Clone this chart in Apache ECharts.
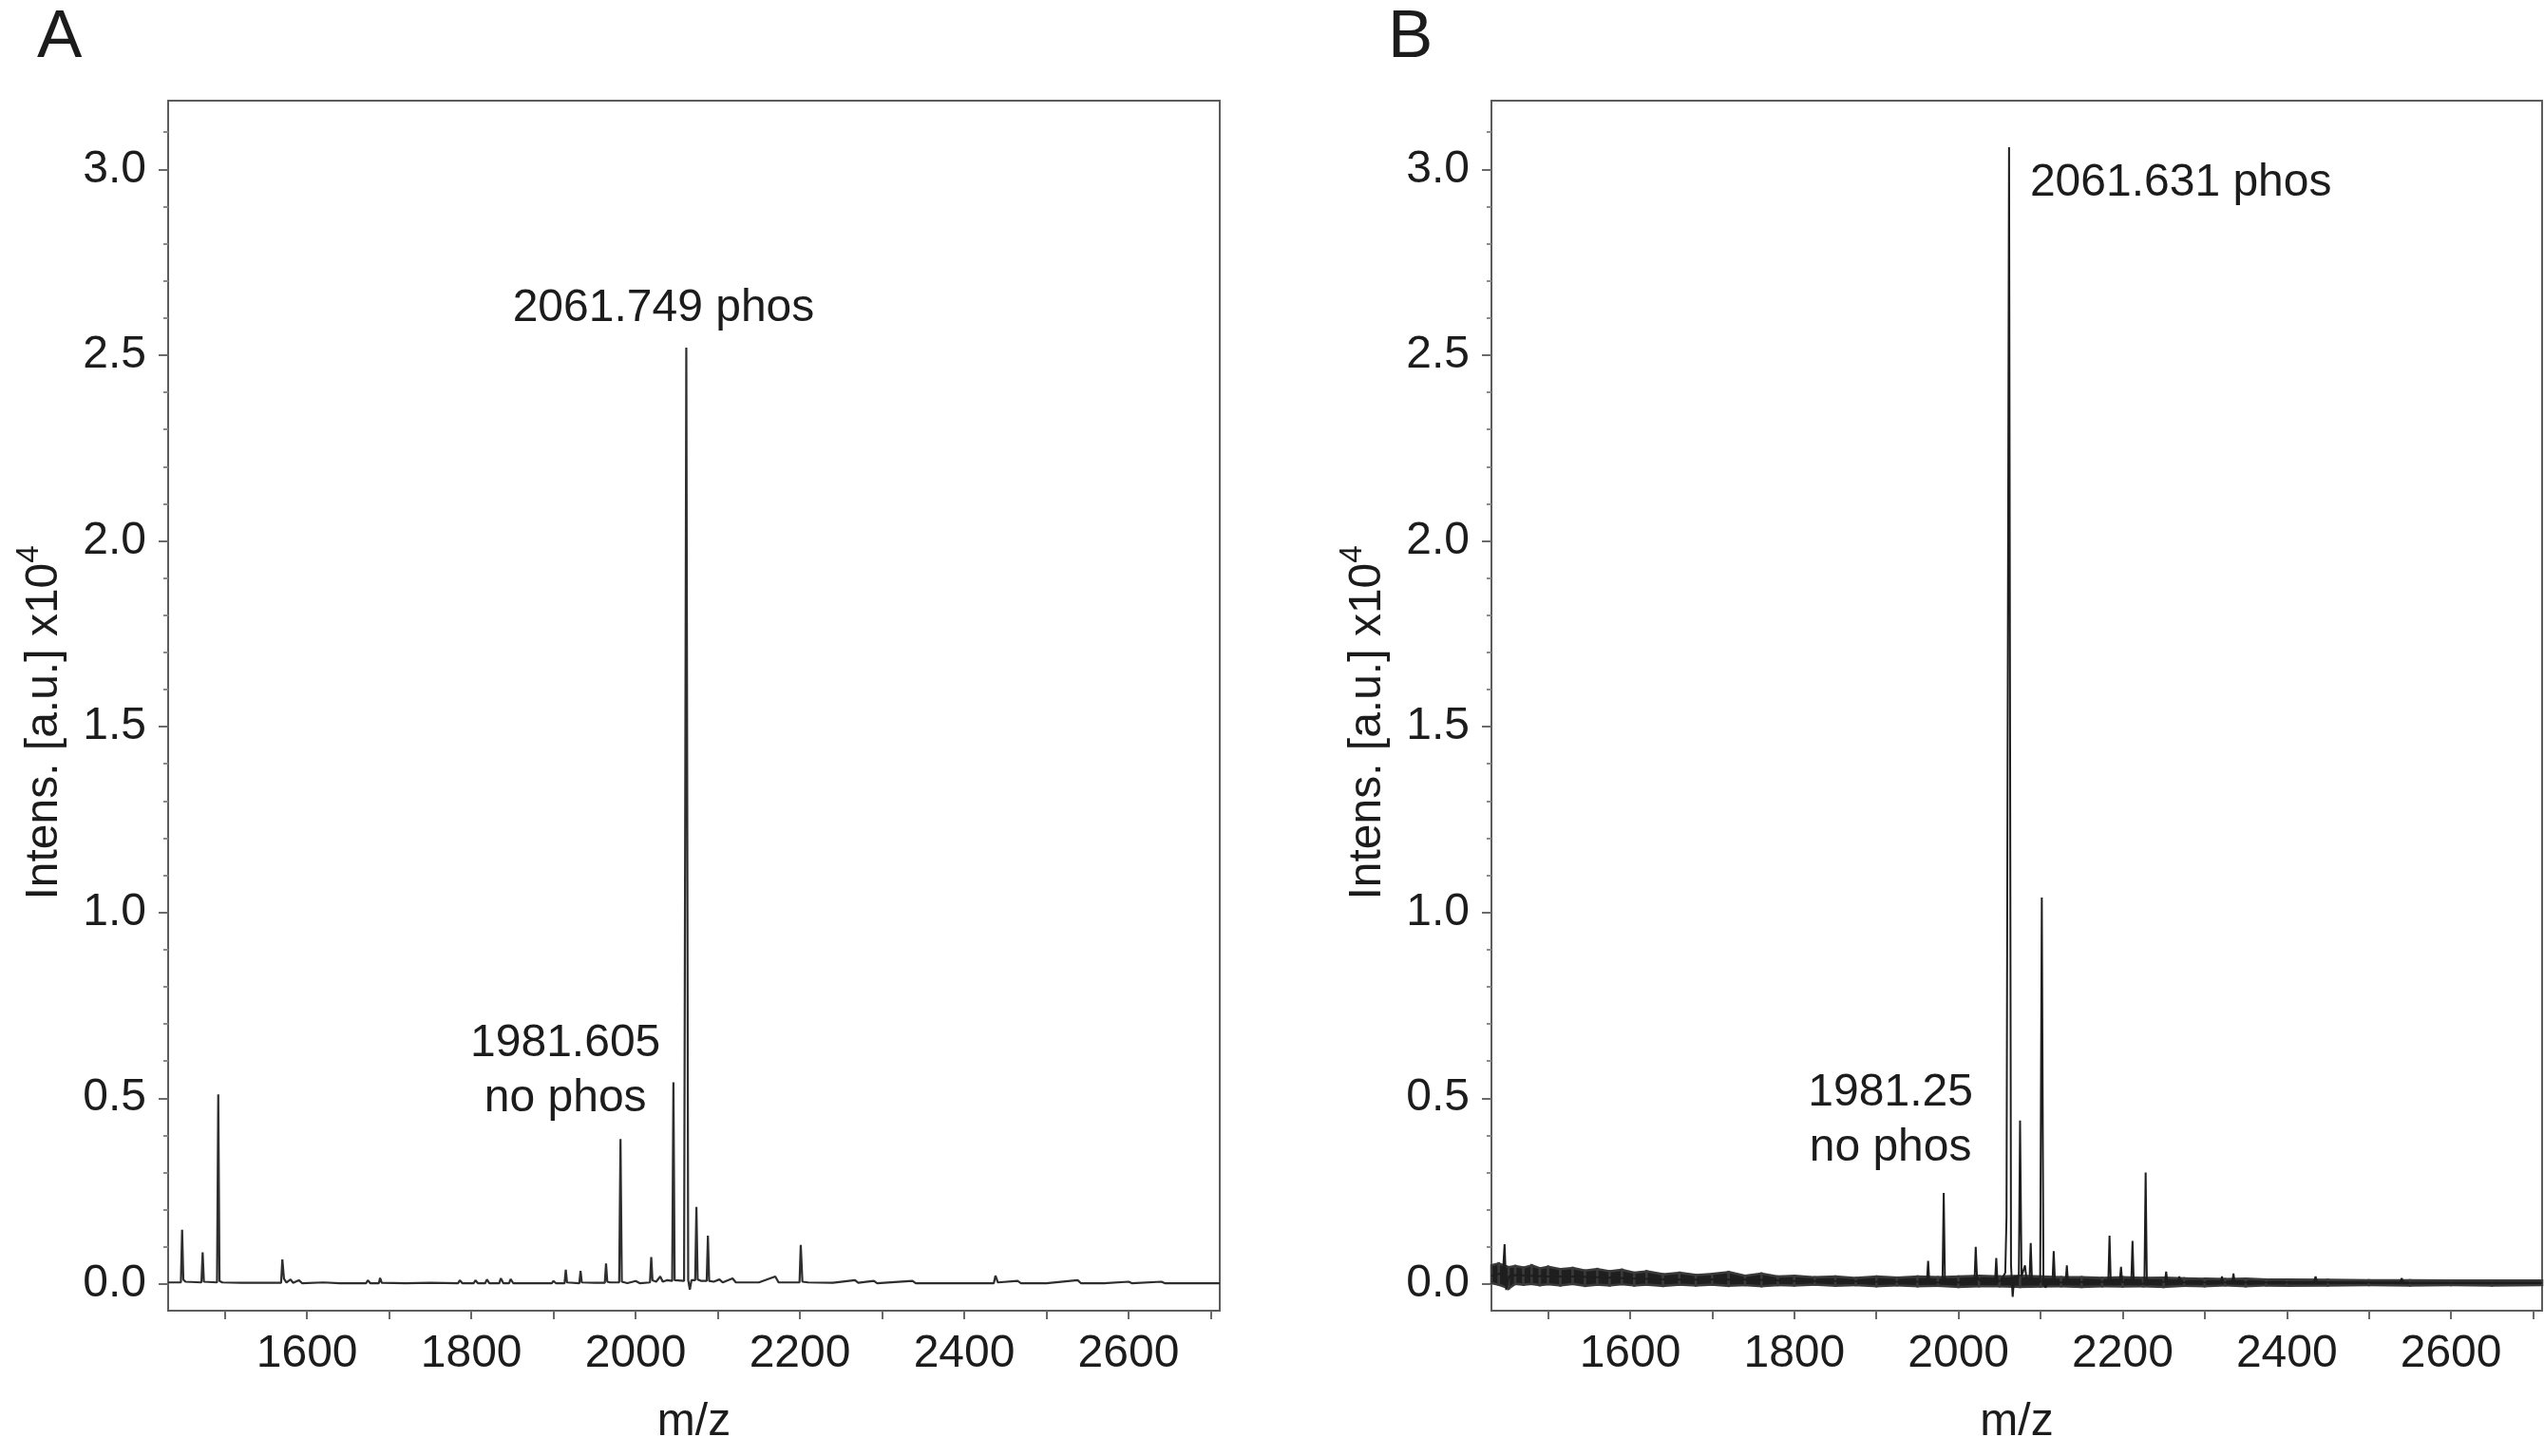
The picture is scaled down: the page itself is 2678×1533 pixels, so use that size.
<!DOCTYPE html>
<html><head><meta charset="utf-8">
<script src="https://cdn.jsdelivr.net/npm/echarts@6/dist/echarts.min.js"></script>
<style>html,body{margin:0;padding:0;background:#fff}#c{width:2678px;height:1533px}</style>
</head><body><div id="c"></div>
<script>
// ---------- data ----------
const xTicks = [1500,1600,1700,1800,1900,2000,2100,2200,2300,2400,2500,2600,2700];
const xLabels = [1600,1800,2000,2200,2400,2600];
const yMajor = [0,0.5,1.0,1.5,2.0,2.5,3.0];
const yMinor = [0.1,0.2,0.3,0.4,0.6,0.7,0.8,0.9,1.1,1.2,1.3,1.4,1.6,1.7,1.8,1.9,2.1,2.2,2.3,2.4,2.6,2.7,2.8,2.9,3.1];

// Panel A spectrum [m/z, intensity x10^4]
const specA = [
[1431,0.004],[1446.5,0.004],[1448,0.146],[1449.5,0.012],[1452,0.006],[1471.5,0.004],[1473,0.085],[1474.5,0.006],
[1490.5,0.004],[1492,0.51],[1493.5,0.008],[1497,0.004],[1520,0.003],[1545,0.003],[1568.5,0.003],[1570,0.066],
[1572,0.014],[1575,0.004],[1580,0.012],[1583,0.003],[1590,0.01],[1594,0.002],[1620,0.004],[1640,0.002],
[1672,0.002],[1674,0.01],[1677,0.002],[1687.5,0.002],[1689,0.016],[1691,0.003],[1720,0.002],[1750,0.003],
[1784,0.002],[1786,0.01],[1789,0.002],[1803,0.002],[1805,0.01],[1808,0.002],[1817,0.002],[1819,0.012],
[1822,0.002],[1834,0.002],[1836,0.015],[1839,0.002],[1846,0.002],[1848,0.013],[1851,0.002],[1880,0.002],
[1898,0.002],[1900,0.008],[1903,0.002],[1913.5,0.002],[1915,0.038],[1916.5,0.004],[1931.5,0.002],[1933,0.035],
[1934.5,0.004],[1950,0.003],[1962.5,0.003],[1964,0.055],[1965.5,0.006],[1969,0.004],[1980,0.004],[1981.6,0.39],
[1983.2,0.006],[1990,0.002],[2000,0.008],[2005,0.002],[2017.5,0.004],[2019,0.072],[2020.5,0.01],[2025,0.006],
[2030,0.02],[2033,0.006],[2038,0.01],[2044.5,0.008],[2046,0.543],[2047.5,0.01],[2059,0.008],[2061.7,2.52],
[2064,0.01],[2066,-0.015],[2068,0.01],[2072.5,0.01],[2074,0.207],[2075.5,0.012],[2080,0.008],[2086.5,0.008],
[2088,0.13],[2089.5,0.008],[2095,0.006],[2102,0.012],[2106,0.004],[2118,0.015],[2122,0.004],[2150,0.004],
[2170,0.02],[2174,0.004],[2199.5,0.004],[2201,0.105],[2203,0.006],[2210,0.004],[2240,0.003],[2267,0.01],
[2271,0.003],[2290,0.008],[2294,0.002],[2337,0.008],[2341,0.002],[2380,0.002],[2436,0.002],[2438,0.022],
[2441,0.004],[2465,0.008],[2469,0.002],[2500,0.002],[2538,0.01],[2542,0.002],[2570,0.002],[2600,0.006],
[2604,0.002],[2640,0.006],[2644,0.002],[2711,0.002]
];

// Panel B spectrum peaks [m/z, intensity x10^4]
const specB = [
[1431,0.022],[1438,0.026],[1445,0.03],[1447,0.107],[1449,-0.016],[1452,0.02],[1460,0.024],[1480,0.022],
[1500,0.02],[1530,0.02],[1560,0.018],[1600,0.015],[1650,0.012],[1700,0.012],[1750,0.012],[1800,0.008],
[1850,0.008],[1900,0.006],[1950,0.006],[1961.5,0.006],[1963,0.062],[1964.5,0.004],[1970,0.004],[1980.5,0.004],
[1982,0.245],[1983.5,0.002],[1990,0.006],[2000,0.004],[2010,0.006],[2019.5,0.006],[2021,0.10],[2022.5,0.02],
[2025,0.012],[2030,0.004],[2040,0.006],[2044.5,0.006],[2046,0.07],[2047.5,0.006],[2052,0.01],[2057,0.03],
[2058.5,0.18],[2061.6,3.06],[2064,0.05],[2066,-0.035],[2068,0.02],[2073.5,0.02],[2075,0.44],[2076.8,0.02],
[2081,0.05],[2083,0.01],[2086.5,0.01],[2088,0.11],[2089.5,0.01],[2094,0.004],[2099.5,0.004],[2101.5,1.04],
[2103.5,0.004],[2106,-0.01],[2110,0.008],[2114.5,0.006],[2116,0.088],[2117.5,0.008],[2124,0.004],[2130.5,0.004],
[2132,0.05],[2133.5,0.004],[2145,0.006],[2160,0.004],[2175,0.006],[2182.5,0.004],[2184,0.13],[2185.5,0.004],
[2190,0.012],[2196.5,0.008],[2198,0.046],[2199.5,0.004],[2205,0.006],[2210.5,0.004],[2212,0.116],[2213.5,0.004],
[2226.5,0.0],[2228,0.30],[2229.5,0.0],[2236,0.01],[2245,0.005],[2251.5,0.006],[2253,0.033],[2254.5,0.004],
[2267.5,0.004],[2269,0.02],[2270.5,0.004],[2300,0.004],[2319.5,0.004],[2321,0.02],[2322.5,0.004],[2333.5,0.004],
[2335,0.028],[2336.5,0.004],[2380,0.004],[2433,0.004],[2435,0.02],[2437,0.004],[2490,0.004],[2538,0.004],
[2540,0.015],[2542,0.003],[2600,0.003],[2650,0.003],[2711,0.003]
];

// Panel B baseline noise envelope
const noiseMzB = [1431,1440,1452,1460,1470,1480,1490,1500,1515,1530,1545,1560,1575,1590,1605,1620,1640,1660,1680,1700,1720,1740,1760,1780,1800,1825,1850,1875,1900,1925,1950,1975,2000,2025,2050,2075,2100,2125,2150,2175,2200,2225,2250,2275,2300,2325,2350,2375,2400,2450,2500,2550,2600,2650,2711];
const noiseLoB = [0.002,-0.002,-0.012,0.0,-0.002,0.0,-0.003,-0.001,-0.004,0.0,-0.005,-0.002,-0.004,-0.001,-0.004,-0.002,-0.005,-0.002,-0.004,-0.002,-0.005,-0.003,-0.006,-0.003,-0.004,-0.002,-0.005,-0.003,-0.006,-0.004,-0.006,-0.005,-0.008,-0.006,-0.006,-0.008,-0.007,-0.006,-0.008,-0.006,-0.007,-0.006,-0.008,-0.005,-0.006,-0.004,-0.006,-0.004,-0.005,-0.004,-0.003,-0.004,-0.003,-0.004,-0.003];
const noiseHiB = [0.05,0.055,0.045,0.048,0.044,0.05,0.042,0.046,0.04,0.043,0.036,0.04,0.034,0.038,0.03,0.034,0.026,0.03,0.024,0.027,0.032,0.022,0.028,0.02,0.022,0.018,0.02,0.016,0.02,0.017,0.02,0.018,0.02,0.022,0.02,0.022,0.02,0.018,0.018,0.016,0.018,0.016,0.017,0.015,0.014,0.013,0.014,0.012,0.012,0.011,0.01,0.01,0.009,0.009,0.009];

// Annotations
const annotA = [
  {mz: 2061.7, h: 2.52, text: '2061.749 phos'},
  {mz: 1981.6, h: 0.39, text: '1981.605\nno phos'}
];
const annotB = [
  {mz: 2061.6, h: 3.06, text: '2061.631 phos'},
  {mz: 1982, h: 0.245, text: '1981.25\nno phos'}
];
const xMin = 1431, xMax = 2711, yMin = -0.072, yMax = 3.185;

// ---------- chart ----------
const FONT = '"Liberation Sans", Arial, Helvetica, sans-serif';
const TXT = '#1c1c1c';
const FRAME = '#5c5c5c';

function xAxisCfg(gi) {
  return {
    type: 'value', gridIndex: gi, min: xMin, max: xMax,
    name: 'm/z', nameLocation: 'middle', nameGap: 94,
    nameTextStyle: {fontSize: 48, color: TXT, fontFamily: FONT},
    axisLine: {show: true, onZero: false, lineStyle: {color: FRAME, width: 2}},
    axisTick: {show: true, customValues: xTicks, length: 9, lineStyle: {color: '#6a6a6a', width: 2}},
    axisLabel: {show: true, customValues: xLabels, margin: 22, fontSize: 48, color: TXT, fontFamily: FONT,
      formatter: v => String(Math.round(v))},
    splitLine: {show: false}
  };
}
function yAxisMajor(gi) {
  return {
    type: 'value', gridIndex: gi, min: yMin, max: yMax,
    name: '{m|Intens. [a.u.] x10}{s|4}', nameLocation: 'middle', nameRotate: 90, nameGap: 97,
    nameTextStyle: {
      padding: [0, 36, 0, 0],
      rich: {
        m: {fontSize: 48, lineHeight: 66, color: TXT, fontFamily: FONT},
        s: {fontSize: 33, verticalAlign: 'top', color: TXT, fontFamily: FONT}
      }
    },
    axisLine: {show: true, onZero: false, lineStyle: {color: FRAME, width: 2}},
    axisTick: {show: true, customValues: yMajor, length: 10, lineStyle: {color: '#6a6a6a', width: 2}},
    axisLabel: {show: true, customValues: yMajor, margin: 23, fontSize: 48, color: TXT, fontFamily: FONT,
      formatter: v => Number(v).toFixed(1)},
    splitLine: {show: false}
  };
}
function yAxisMinor(gi) {
  return {
    type: 'value', gridIndex: gi, min: yMin, max: yMax, position: 'left', offset: 0,
    axisLine: {show: false},
    axisTick: {show: true, customValues: yMinor, length: 5, lineStyle: {color: '#8a8a8a', width: 2}},
    axisLabel: {show: false}, splitLine: {show: false}
  };
}
function markFor(list, opts) {
  return {
    symbol: 'circle', symbolSize: 0, silent: true, animation: false,
    data: list.map((a, i) => ({
      coord: [a.mz, a.h],
      value: a.text,
      label: Object.assign({show: true, formatter: a.text}, opts[i])
    })),
    label: {show: true, position: 'inside', fontSize: 48, lineHeight: 58, color: TXT, fontFamily: FONT}
  };
}

// band rows: segment i -> i+1 of the noise envelope
const noiseRowsB = noiseMzB.slice(0, -1).map((m, i) =>
  [m, noiseLoB[i], noiseHiB[i], noiseMzB[i + 1], noiseLoB[i + 1], noiseHiB[i + 1]]);

const option = {
  animation: false,
  backgroundColor: '#ffffff',
  textStyle: {fontFamily: FONT},
  grid: [
    {left: 177, top: 106, width: 1107, height: 1274, show: true, borderColor: FRAME, borderWidth: 2, containLabel: false},
    {left: 1570, top: 106, width: 1106, height: 1274, show: true, borderColor: FRAME, borderWidth: 2, containLabel: false}
  ],
  xAxis: [xAxisCfg(0), xAxisCfg(1)],
  yAxis: [yAxisMajor(0), yAxisMinor(0), yAxisMajor(1), yAxisMinor(1)],
  series: [
    {
      type: 'line', xAxisIndex: 0, yAxisIndex: 0, data: specA, showSymbol: false, z: 3,
      lineStyle: {color: '#2e2e2e', width: 2.2},
      markPoint: markFor(annotA, [
        {align: 'center', verticalAlign: 'middle', offset: [-24, -41]},
        {align: 'center', verticalAlign: 'middle', offset: [-58, -72]}
      ])
    },
    {
      type: 'custom', xAxisIndex: 1, yAxisIndex: 2, data: noiseRowsB, z: 2, silent: true,
      encode: {x: [0, 3], y: [1, 2, 4, 5]},
      renderItem: function (params, api) {
        const a = api.coord([api.value(0), api.value(2)]);
        const b = api.coord([api.value(3), api.value(5)]);
        const c = api.coord([api.value(3), api.value(4)]);
        const d = api.coord([api.value(0), api.value(1)]);
        return {
          type: 'polygon',
          shape: {points: [a, b, c, d]},
          style: {fill: '#1f1f1f', stroke: '#3a3a3a', lineWidth: 2.5}
        };
      }
    },
    {
      type: 'line', xAxisIndex: 1, yAxisIndex: 2, data: specB, showSymbol: false, z: 4,
      lineStyle: {color: '#1e1e1e', width: 2},
      markPoint: markFor(annotB, [
        {align: 'left', verticalAlign: 'middle', offset: [22, 38]},
        {align: 'center', verticalAlign: 'middle', offset: [-56, -76]}
      ])
    }
  ],
  graphic: [
    {type: 'text', x: 39, y: 40, style: {text: 'A', fontSize: 71, fontFamily: FONT, fill: TXT, align: 'left', verticalAlign: 'middle'}},
    {type: 'text', x: 1461, y: 40, style: {text: 'B', fontSize: 71, fontFamily: FONT, fill: TXT, align: 'left', verticalAlign: 'middle'}}
  ]
};

const chart = echarts.init(document.getElementById('c'), null, {renderer: 'canvas'});
chart.setOption(option);
</script>
</body></html>
